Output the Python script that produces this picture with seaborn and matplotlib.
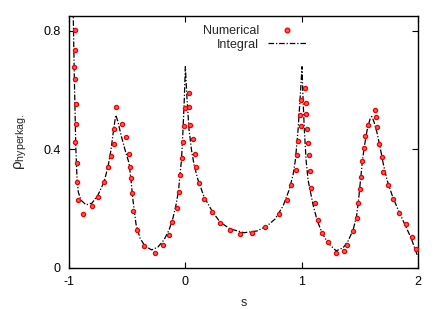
import numpy as np
import pandas as pd
import seaborn as sns
import matplotlib
matplotlib.use("Agg")
import matplotlib.pyplot as plt
from matplotlib.lines import Line2D

# numerical points
num_s = [-0.946, -0.946, -0.957, -0.948, -0.940, -0.940, -0.951, -0.931, -0.934, -0.923,
         -0.877, -0.802, -0.753, -0.702, -0.667, -0.636, -0.616, -0.616, -0.598, -0.547,
         -0.510, -0.484, -0.476, -0.469, -0.456, -0.447, -0.418, -0.353, -0.258, -0.189,
         -0.143, -0.112, -0.074, -0.054, -0.043, -0.028, -0.017, -0.009, -0.005, 0.034,
         0.032, 0.040, 0.064, 0.081, 0.092, 0.118, 0.163, 0.230, 0.298, 0.384,
         0.470, 0.574, 0.688, 0.806, 0.872, 0.909, 0.949, 0.963, 0.966, 0.997,
         0.989, 0.997, 1.029, 1.038, 1.038, 1.046, 1.055, 1.066, 1.075, 1.081,
         1.113, 1.138, 1.178, 1.227, 1.293, 1.367, 1.393, 1.445, 1.479, 1.488,
         1.505, 1.513, 1.522, 1.539, 1.548, 1.571, 1.634, 1.637, 1.646, 1.668,
         1.689, 1.703, 1.740, 1.789, 1.835, 1.895, 1.949, 1.986]
num_rho = [0.802, 0.735, 0.677, 0.637, 0.553, 0.485, 0.424, 0.353, 0.291, 0.228,
           0.182, 0.210, 0.240, 0.289, 0.339, 0.379, 0.418, 0.468, 0.544, 0.487,
           0.442, 0.386, 0.340, 0.303, 0.254, 0.191, 0.127, 0.075, 0.050, 0.078,
           0.110, 0.154, 0.201, 0.255, 0.313, 0.371, 0.426, 0.480, 0.541, 0.542,
           0.590, 0.483, 0.435, 0.386, 0.340, 0.286, 0.234, 0.190, 0.153, 0.127,
           0.115, 0.118, 0.137, 0.181, 0.229, 0.279, 0.330, 0.380, 0.429, 0.479,
           0.516, 0.566, 0.606, 0.557, 0.520, 0.468, 0.421, 0.381, 0.326, 0.269,
           0.218, 0.161, 0.117, 0.087, 0.051, 0.057, 0.079, 0.125, 0.170, 0.218,
           0.267, 0.306, 0.361, 0.405, 0.444, 0.483, 0.534, 0.511, 0.474, 0.418,
           0.376, 0.324, 0.281, 0.232, 0.187, 0.149, 0.105, 0.064]

# integral curve
int_s = [-0.975, -0.963, -0.954, -0.942, -0.931, -0.920, -0.897, -0.854, -0.802, -0.751,
         -0.699, -0.665, -0.639, -0.617, -0.598, -0.579, -0.553, -0.518, -0.484, -0.467,
         -0.450, -0.424, -0.390, -0.347, -0.289, -0.235, -0.183, -0.140, -0.106, -0.080,
         -0.058, -0.046, -0.033, -0.020, -0.009, 0.000, 0.015, 0.032, 0.053, 0.075,
         0.109, 0.161, 0.230, 0.298, 0.384, 0.505, 0.617, 0.702, 0.771, 0.840,
         0.892, 0.926, 0.946, 0.969, 0.986, 1.003, 1.012, 1.023, 1.038, 1.055,
         1.072, 1.098, 1.132, 1.175, 1.227, 1.296, 1.356, 1.399, 1.442, 1.472,
         1.489, 1.506, 1.523, 1.541, 1.563, 1.588, 1.603, 1.622, 1.648, 1.674,
         1.700, 1.734, 1.777, 1.829, 1.889, 1.941, 1.998]
int_rho = [0.950, 0.841, 0.639, 0.415, 0.301, 0.256, 0.229, 0.213, 0.219, 0.246,
           0.290, 0.341, 0.398, 0.466, 0.516, 0.493, 0.449, 0.398, 0.354, 0.297,
           0.229, 0.148, 0.101, 0.074, 0.061, 0.071, 0.095, 0.128, 0.169, 0.213,
           0.263, 0.314, 0.364, 0.466, 0.567, 0.679, 0.567, 0.466, 0.398, 0.348,
           0.297, 0.240, 0.192, 0.155, 0.132, 0.119, 0.125, 0.142, 0.165, 0.209,
           0.263, 0.314, 0.364, 0.466, 0.567, 0.679, 0.567, 0.466, 0.364, 0.297,
           0.263, 0.213, 0.162, 0.118, 0.084, 0.058, 0.068, 0.091, 0.128, 0.176,
           0.229, 0.297, 0.364, 0.415, 0.466, 0.503, 0.511, 0.493, 0.456, 0.408,
           0.354, 0.297, 0.246, 0.196, 0.145, 0.101, 0.038]

x_ticks = [-1, 0, 1, 2]
x_labels = ["-1", "0", "1", "2"]
y_ticks = [0, 0.4, 0.8]
y_labels = ["0", "0.4", "0.8"]

num = pd.DataFrame({"s": num_s, "rho": num_rho})
curve = pd.DataFrame({"s": int_s, "rho": int_rho})

sns.set_theme(style="ticks")
plt.rcParams["font.family"] = ["Liberation Sans", "DejaVu Sans"]
plt.rcParams["mathtext.fontset"] = "custom"
plt.rcParams["mathtext.rm"] = "Liberation Sans"
plt.rcParams["mathtext.it"] = "Liberation Sans:italic"
plt.rcParams["axes.unicode_minus"] = False

fig = plt.figure(figsize=(4.42, 3.09), dpi=100)
ax = fig.add_axes([69 / 442, 41 / 309, 349 / 442, 252 / 309])

dash = [4.5, 1.5, 1, 1.5]
pt_face, pt_edge = "#ff5a5a", "#ee0000"

sns.lineplot(data=curve, x="s", y="rho", ax=ax, color="black", lw=0.9,
             estimator=None, sort=False)
ax.lines[0].set_dashes(dash)
sns.scatterplot(data=num, x="s", y="rho", ax=ax, color=pt_face, edgecolor=pt_edge,
                linewidth=0.9, s=9, zorder=3)

ax.set_xlim(-1, 2)
ax.set_ylim(0, 0.85)
ax.set_xticks(x_ticks)
ax.set_xticklabels(x_labels)
ax.set_yticks(y_ticks)
ax.set_yticklabels(y_labels)
ax.tick_params(direction="in", length=4.5, width=0.8, top=True, right=True,
               labelsize=9, pad=6, colors="black")
for sp in ax.spines.values():
    sp.set_linewidth(1.0)
    sp.set_color("black")
ax.set_xlabel("s", fontsize=9, labelpad=6.5)
ax.set_ylabel(r"$\mathrm{\rho_{hyperkag.}}$", fontsize=11, labelpad=10)

handles = [
    Line2D([], [], ls="", marker="o", ms=3.4, mfc=pt_face, mec=pt_edge, mew=0.9),
    Line2D([], [], color="black", lw=0.9, dashes=dash),
]
ax.legend(handles, ["Numerical", "Integral"], loc="upper right",
          bbox_to_anchor=(0.703, 0.998), frameon=False, markerfirst=False,
          fontsize=9, handlelength=3.0, handletextpad=0.7, labelspacing=0.12,
          borderpad=0.2, numpoints=1)

fig.savefig("out.png", dpi=100)
